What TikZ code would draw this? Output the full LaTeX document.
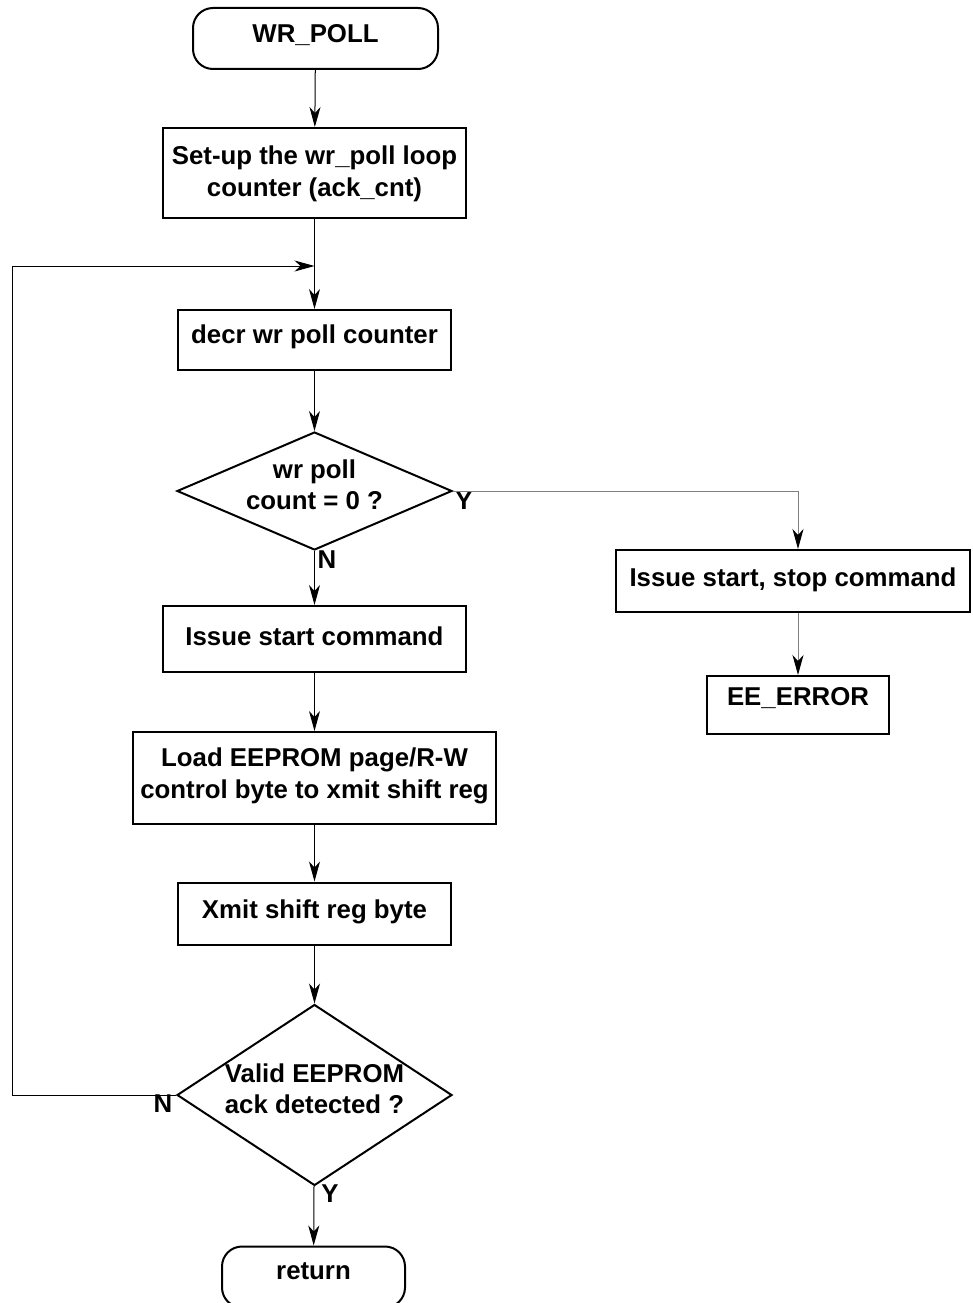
\documentclass[tikz,border=0pt]{standalone}
\usepackage{fontspec}
\setmainfont{Liberation Sans}
\usetikzlibrary{shapes.geometric,arrows.meta}
\newcommand{\flowfont}{\fontsize{25.8}{31.5}\selectfont\bfseries}

\begin{document}
\begin{tikzpicture}[x=1pt, y=-1pt,
    txt/.style={font=\flowfont, align=center, inner sep=0pt},
    toptext/.style={txt, anchor=north, yshift=#1},
    toptext/.default=-16,
    midtext/.style={txt, yshift=6},
    base/.style={draw, line width=2pt, inner sep=0pt},
    terminal/.style={base, rectangle, rounded corners=20pt, minimum height=61},
    procbox/.style={base, rectangle},
    decision/.style={base, diamond, minimum width=275},
    conn/.style={line width=1pt},
    arrow/.style={conn, -{Stealth[length=20pt, width=11pt, inset=6pt]}},
    greyarrow/.style={conn, draw=black!50, -{Stealth[length=20pt, width=11pt, inset=6pt, color=black]}}]
    \useasboundingbox (0,0) rectangle (972,1303);

    % Основной столбец
    \node[terminal, minimum width=245,
          label={[toptext=-17]north:WR\_POLL}] (wrpoll) at (315.5,38.5) {};
    \node[procbox, minimum width=303, minimum height=90,
          label={[toptext=-19]north:Set-up the wr\_poll loop\\counter (ack\_cnt)}] (setup) at (314.5,173) {};
    \node[procbox, minimum width=273, minimum height=60,
          label={[toptext]north:decr wr poll counter}] (decr) at (314.5,340) {};
    \node[decision, minimum height=118,
          label={[midtext]center:wr poll\\count = 0 ?}] (zero) at (314.5,491) {};
    \node[procbox, minimum width=303, minimum height=66,
          label={[toptext=-22]north:Issue start command}] (start) at (314.5,639) {};
    \node[procbox, minimum width=363, minimum height=92,
          label={[toptext=-17]north:Load EEPROM page/R-W\\control byte to xmit shift reg}] (load) at (314.5,778) {};
    \node[procbox, minimum width=273, minimum height=62,
          label={[toptext=-18]north:Xmit shift reg byte}] (xmit) at (314.5,913.5) {};
    \node[decision, minimum height=181,
          label={[midtext]center:Valid EEPROM\\ack detected ?}] (valid) at (314.5,1095) {};
    \node[terminal, minimum width=183,
          label={[toptext=-17]north:return}] (return) at (313.5,1277) {};

    % Ветка ошибки
    \node[procbox, minimum width=354, minimum height=62,
          label={[toptext=-19]north:Issue start, stop command}] (stop) at (793,581) {};
    \node[procbox, minimum width=182, minimum height=58,
          label={[toptext=-12]north:EE\_ERROR}] (error) at (798,705) {};

    % Подписи Y / N
    \node[txt] (zeroy) at (464,501) {Y};
    \node[txt] (zeron) at (327,560) {N};
    \node[txt] (validn) at (163,1104) {N};
    \node[txt] (validy) at (330,1194) {Y};

    % Стрелки
    \coordinate (join) at (314.5,266);
    \coordinate (loopleft) at (12,266);
    \draw[arrow] (wrpoll) -- (setup);
    \draw[arrow] (setup) -- (decr);
    \draw[arrow] (decr) -- (zero);
    \draw[arrow] (zero) -- (start);
    \draw[arrow] (start) -- (load);
    \draw[arrow] (load) -- (xmit);
    \draw[arrow] (xmit) -- (valid);
    \draw[arrow] (valid) -- (return);
    \draw[greyarrow] (zero.east) -| (error.north |- stop.north);
    \draw[greyarrow] (stop.south -| error.north) -- (error);
    \draw[arrow] (valid.west) -| (loopleft) -- (join);
\end{tikzpicture}
\end{document}
